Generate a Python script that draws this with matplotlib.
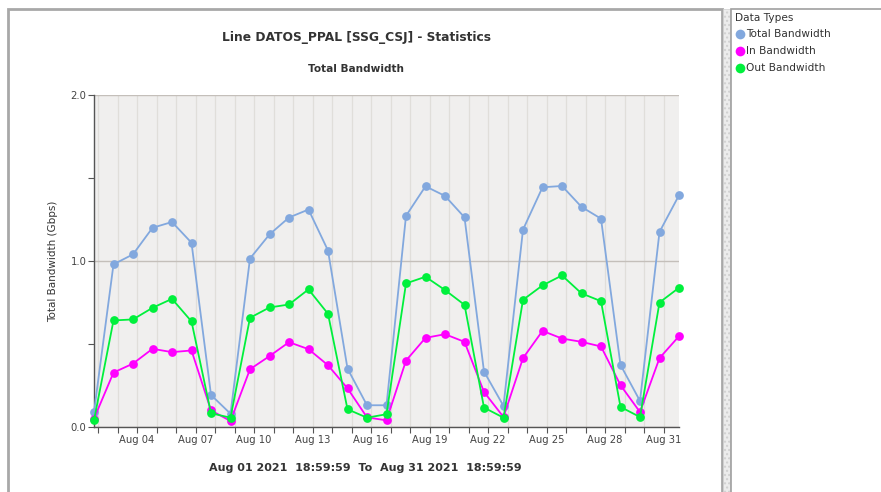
import matplotlib
matplotlib.use("Agg")
import matplotlib.pyplot as plt
import matplotlib.dates as mdates
from matplotlib.patches import Rectangle
from matplotlib.lines import Line2D
from datetime import datetime

# daily samples, Aug 01 .. Aug 31 2021 at 18:59:59
days = list(range(1, 32))
total_bw = [0.09, 0.98, 1.04, 1.20, 1.235, 1.11, 0.193, 0.08, 1.015, 1.16, 1.262, 1.31, 1.063,
            0.352, 0.131, 0.131, 1.272, 1.45, 1.392, 1.263, 0.334, 0.127, 1.189, 1.444, 1.452,
            1.326, 1.255, 0.374, 0.157, 1.175, 1.396]
in_bw = [0.05, 0.328, 0.382, 0.471, 0.451, 0.461, 0.10, 0.036, 0.348, 0.427, 0.511, 0.469, 0.372,
         0.233, 0.058, 0.04, 0.40, 0.537, 0.559, 0.513, 0.211, 0.06, 0.415, 0.579, 0.533,
         0.513, 0.485, 0.252, 0.09, 0.415, 0.547]
out_bw = [0.04, 0.642, 0.648, 0.718, 0.772, 0.636, 0.083, 0.056, 0.658, 0.72, 0.738, 0.829, 0.682,
          0.107, 0.056, 0.077, 0.865, 0.905, 0.825, 0.736, 0.117, 0.056, 0.766, 0.853, 0.913,
          0.805, 0.758, 0.121, 0.06, 0.75, 0.839]
series_names = ["Total Bandwidth", "In Bandwidth", "Out Bandwidth"]
series_colors = ["#82a8de", "#ff00ff", "#00f03c"]

times = [datetime(2021, 8, d, 18, 59, 59) for d in days]

W, H = 881, 492
fig = plt.figure(figsize=(W / 100, H / 100), dpi=100)
fig.patch.set_facecolor("white")

def px(x0, y0, x1, y1):
    # pixel box (top-left origin) -> figure fraction rect
    return [x0 / W, 1 - y1 / H, (x1 - x0) / W, (y1 - y0) / H]

# panel frames
r = px(8, 9, 722, 500)
fig.patches.append(Rectangle((r[0], r[1]), r[2], r[3], transform=fig.transFigure,
                             fill=False, edgecolor="#a8a8a8", linewidth=2))
r = px(723, 9, 730, 500)
fig.patches.append(Rectangle((r[0], r[1]), r[2], r[3], transform=fig.transFigure,
                             facecolor="#ececec", edgecolor="#d0d0d0", hatch="....", linewidth=0.5))
r = px(731, 9, 890, 500)
fig.patches.append(Rectangle((r[0], r[1]), r[2], r[3], transform=fig.transFigure,
                             fill=False, edgecolor="#a0a0a0", linewidth=1.2))

ax = fig.add_axes(px(94, 95, 679, 427))
ax.set_facecolor("#f0efee")

for vals, name, col in zip([total_bw, in_bw, out_bw], series_names, series_colors):
    ax.plot(times, vals, color=col, linewidth=1.3, marker="o", markersize=6.3,
            markeredgewidth=0, label=name, clip_on=False, zorder=3)

ax.set_xlim(times[0], times[-1])
ax.set_ylim(0, 2.0)
ax.xaxis.set_major_locator(mdates.DayLocator(bymonthday=list(range(4, 32, 3))))
ax.xaxis.set_major_formatter(mdates.DateFormatter("%b %d"))
ax.xaxis.set_minor_locator(mdates.DayLocator())
ax.set_yticks([0.0, 1.0, 2.0])
ax.set_yticklabels(["0.0", "1.0", "2.0"])
ax.set_yticks([0.5, 1.5], minor=True)

ax.grid(True, axis="x", which="both", color="#e0deda", linewidth=0.9)
ax.grid(True, axis="y", which="major", color="#c4bfba", linewidth=1.0)
ax.set_axisbelow(True)

for s in ["top", "right"]:
    ax.spines[s].set_visible(False)
for s in ["left", "bottom"]:
    ax.spines[s].set_color("#555555")
    ax.spines[s].set_linewidth(1.0)

ax.tick_params(axis="both", which="both", direction="out", length=4, width=0.8,
               color="#555555", labelsize=7.2, labelcolor="#444444", pad=1.5)

ax.set_ylabel("Total Bandwidth (Gbps)", fontsize=7.5, color="#333333", labelpad=9)

fig.text(356 / W, 1 - 38 / H, "Line DATOS_PPAL [SSG_CSJ] - Statistics", ha="center", va="center",
         fontsize=8.85, fontweight="bold", color="#333333")
fig.text(356 / W, 1 - 69 / H, "Total Bandwidth", ha="center", va="center",
         fontsize=7.6, fontweight="bold", color="#333333")
fig.text(365 / W, 1 - 468 / H, "Aug 01 2021  18:59:59  To  Aug 31 2021  18:59:59", ha="center",
         va="center", fontsize=8.0, fontweight="bold", color="#333333")

# legend panel
fig.text(735 / W, 1 - 18 / H, "Data Types", ha="left", va="center", fontsize=7.6, color="#333333")
for k, (name, col) in enumerate(zip(series_names, series_colors)):
    yy = 1 - (34 + k * 17) / H
    fig.lines.append(Line2D([740 / W], [yy], transform=fig.transFigure, marker="o",
                            markersize=7, markeredgewidth=0, color=col, linestyle="none"))
    fig.text(746 / W, yy, name, ha="left", va="center", fontsize=7.6, color="#333333")

fig.savefig("out.png", dpi=100)
